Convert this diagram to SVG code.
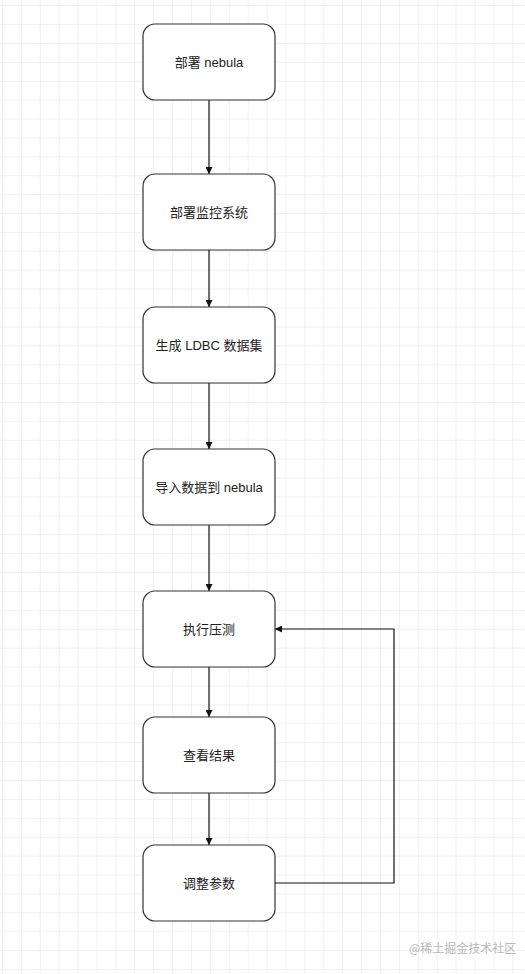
<svg xmlns="http://www.w3.org/2000/svg" width="525" height="974" viewBox="0 0 525 974">
<style>
.box{fill:#ffffff;stroke:#333333;stroke-width:1.2}
.lbl{font-family:"Liberation Sans","Noto Sans CJK SC",sans-serif;font-size:13px;fill:#222222;text-anchor:middle}
.edge{fill:none;stroke:#111111;stroke-width:1.2}
.wm{font-family:"Noto Sans CJK SC",sans-serif;font-size:12px;fill:#b8b8b8}
</style>
<defs>
<pattern id="grid" patternUnits="userSpaceOnUse" x="2" y="5.1" width="18.9" height="18.9">
<path d="M0 0H18.9M0 0V18.9" fill="none" stroke="#e2e2e2" stroke-width="1"/>
</pattern>
<marker id="arr" viewBox="0 0 10 10" refX="10" refY="5" markerWidth="7" markerHeight="7" markerUnits="userSpaceOnUse" orient="auto">
<path d="M0 0L10 5L0 10z" fill="#111111"/>
</marker>
</defs>
<rect x="0" y="0" width="525" height="974" fill="#ffffff"/>
<rect x="0" y="0" width="525" height="974" fill="url(#grid)"/>
<g id="connectors">
<path class="edge" d="M209 100V174" marker-end="url(#arr)"/>
<path class="edge" d="M209 250V307" marker-end="url(#arr)"/>
<path class="edge" d="M209 383V449" marker-end="url(#arr)"/>
<path class="edge" d="M209 525V591" marker-end="url(#arr)"/>
<path class="edge" d="M209 667V717" marker-end="url(#arr)"/>
<path class="edge" d="M209 793V845" marker-end="url(#arr)"/>
<path class="edge" d="M275 883H394V629H275" marker-end="url(#arr)"/>
</g>
<g id="n1"><rect class="box" x="143" y="24" width="132" height="76" rx="12"/><text class="lbl" x="209" y="67">部署 nebula</text></g>
<g id="n2"><rect class="box" x="143" y="174" width="132" height="76" rx="12"/><text class="lbl" x="209" y="217">部署监控系统</text></g>
<g id="n3"><rect class="box" x="143" y="307" width="132" height="76" rx="12"/><text class="lbl" x="209" y="350">生成 LDBC 数据集</text></g>
<g id="n4"><rect class="box" x="143" y="449" width="132" height="76" rx="12"/><text class="lbl" x="209" y="492">导入数据到 nebula</text></g>
<g id="n5"><rect class="box" x="143" y="591" width="132" height="76" rx="12"/><text class="lbl" x="209" y="634">执行压测</text></g>
<g id="n6"><rect class="box" x="143" y="717" width="132" height="76" rx="12"/><text class="lbl" x="209" y="760">查看结果</text></g>
<g id="n7"><rect class="box" x="143" y="845" width="132" height="76" rx="12"/><text class="lbl" x="209" y="888">调整参数</text></g>
<text class="wm" x="409" y="953">@稀土掘金技术社区</text>
</svg>
